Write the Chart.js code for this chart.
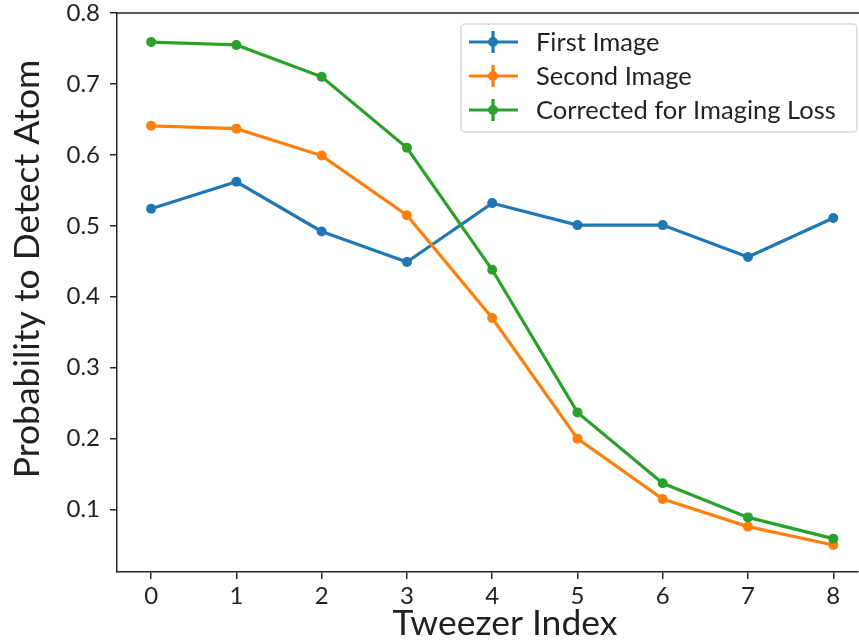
<!DOCTYPE html>
<html>
<head>
<meta charset="utf-8">
<script src="https://cdn.jsdelivr.net/npm/chart.js@4.4.1/dist/chart.umd.min.js"></script>
<style>
  html, body { margin: 0; padding: 0; background: #fff; }
  #wrap { width: 859px; height: 644px; }
</style>
</head>
<body>
<div id="wrap"><canvas id="chart" width="859" height="644"></canvas></div>
<script>
// Datos
const tweezerIndex = [0, 1, 2, 3, 4, 5, 6, 7, 8];
const firstImage  = [0.524, 0.562, 0.492, 0.449, 0.532, 0.501, 0.501, 0.456, 0.511];
const secondImage = [0.641, 0.637, 0.599, 0.515, 0.370, 0.200, 0.115, 0.076, 0.050];
const corrected   = [0.759, 0.755, 0.710, 0.610, 0.438, 0.237, 0.137, 0.089, 0.059];
const firstErr    = [0.006, 0.006, 0.006, 0.006, 0.006, 0.006, 0.006, 0.006, 0.006];
const secondErr   = [0.005, 0.005, 0.005, 0.005, 0.005, 0.004, 0.004, 0.003, 0.003];
const correctedErr = [0.006, 0.006, 0.006, 0.006, 0.005, 0.004, 0.004, 0.003, 0.003];
const yTicks = [0.1, 0.2, 0.3, 0.4, 0.5, 0.6, 0.7, 0.8];
const seriesNames = ['First Image', 'Second Image', 'Corrected for Imaging Loss'];
const colors = ['#1f77b4', '#ff7f0e', '#2ca02c'];

// la figura original está recortada por la derecha
const xMin = -0.4, xMax = 8.29;

const FONT = 'Lato, "Open Sans", sans-serif';
const INK = '#231f20';

const toPoints = arr => arr.map((v, i) => ({ x: tweezerIndex[i], y: v }));

function makeSet(i, values, errs) {
    return {
        label: seriesNames[i],
        data: toPoints(values),
        errors: errs,
        borderColor: colors[i],
        backgroundColor: colors[i],
        borderWidth: 3.2,
        pointRadius: 5,
        pointHoverRadius: 5,
        pointBorderWidth: 0,
        tension: 0,
        order: 3 - i
    };
}

// Barras de error + marco + títulos + leyenda
const decor = {
    id: 'decor',
    afterDatasetDraw(chart, args) {
        const ds = chart.data.datasets[args.index];
        const y = chart.scales.y;
        const ctx = chart.ctx;
        ctx.save();
        ctx.strokeStyle = ds.borderColor;
        ctx.lineWidth = 3;
        args.meta.data.forEach((pt, k) => {
            const v = ds.data[k].y, e = ds.errors[k];
            ctx.beginPath();
            ctx.moveTo(pt.x, y.getPixelForValue(v - e));
            ctx.lineTo(pt.x, y.getPixelForValue(v + e));
            ctx.stroke();
        });
        ctx.restore();
    },
    afterDraw(chart) {
        const ctx = chart.ctx;
        const a = chart.chartArea;
        ctx.save();
        // marco superior
        ctx.strokeStyle = '#262626';
        ctx.lineWidth = 1.5;
        ctx.beginPath();
        ctx.moveTo(a.left, a.top);
        ctx.lineTo(chart.width, a.top);
        ctx.stroke();

        // títulos de ejes
        ctx.fillStyle = INK;
        ctx.font = '35.5px ' + FONT;
        ctx.textAlign = 'center';
        ctx.textBaseline = 'alphabetic';
        ctx.fillText('Tweezer Index', 505, 635);
        ctx.save();
        ctx.translate(39, 269);
        ctx.rotate(-Math.PI / 2);
        ctx.fillText('Probability to Detect Atom', 0, 0);
        ctx.restore();

        // leyenda
        const lx = a.right - 397, ly = a.top + 11, lw = 396, lh = 108;
        ctx.fillStyle = 'rgba(255,255,255,0.85)';
        ctx.strokeStyle = '#d9d9d9';
        ctx.lineWidth = 1.5;
        ctx.beginPath();
        ctx.roundRect(lx, ly, lw, lh, 4);
        ctx.fill();
        ctx.stroke();
        ctx.font = '25.5px ' + FONT;
        ctx.textAlign = 'left';
        ctx.textBaseline = 'middle';
        chart.data.datasets.forEach((ds, i) => {
            const cy = ly + 18 + i * 34;
            ctx.strokeStyle = ds.borderColor;
            ctx.lineWidth = 3.2;
            ctx.beginPath();
            ctx.moveTo(lx + 8, cy);
            ctx.lineTo(lx + 57, cy);
            ctx.moveTo(lx + 32, cy - 11);
            ctx.lineTo(lx + 32, cy + 11);
            ctx.stroke();
            ctx.fillStyle = ds.borderColor;
            ctx.beginPath();
            ctx.arc(lx + 32, cy, 5, 0, Math.PI * 2);
            ctx.fill();
            ctx.fillStyle = INK;
            ctx.fillText(ds.label, lx + 75, cy + 1);
        });
        ctx.restore();
    }
};

const ctx = document.getElementById('chart').getContext('2d');
new Chart(ctx, {
    type: 'line',
    data: {
        datasets: [
            makeSet(0, firstImage, firstErr),
            makeSet(1, secondImage, secondErr),
            makeSet(2, corrected, correctedErr)
        ]
    },
    options: {
        responsive: false,
        animation: false,
        devicePixelRatio: 1,
        layout: { autoPadding: false, padding: { top: 13, right: 1, left: 0, bottom: 0 } },
        plugins: {
            legend: { display: false },
            tooltip: { enabled: false }
        },
        scales: {
            x: {
                type: 'linear',
                min: xMin,
                max: xMax,
                afterBuildTicks: s => { s.ticks = tweezerIndex.map(v => ({ value: v })); },
                afterFit: s => { s.height = 72; s.paddingLeft = 0; s.paddingRight = 0; },
                grid: { display: true, drawOnChartArea: false, drawTicks: true, tickLength: 7, color: '#262626', lineWidth: 1.5 },
                border: { display: true, color: '#262626', width: 1.5 },
                ticks: { color: INK, font: { family: FONT, size: 24 }, padding: 3, maxRotation: 0 }
            },
            y: {
                type: 'linear',
                min: 0.012,
                max: 0.8,
                afterBuildTicks: s => { s.ticks = yTicks.map(v => ({ value: v })); },
                afterFit: s => { s.width = 117; s.paddingTop = 0; s.paddingBottom = 0; },
                grid: { display: true, drawOnChartArea: false, drawTicks: true, tickLength: 7, color: '#262626', lineWidth: 1.5 },
                border: { display: true, color: '#262626', width: 1.5 },
                ticks: { color: INK, font: { family: FONT, size: 24 }, padding: 10, callback: v => v.toFixed(1) }
            }
        }
    },
    plugins: [decor]
});
</script>
</body>
</html>
